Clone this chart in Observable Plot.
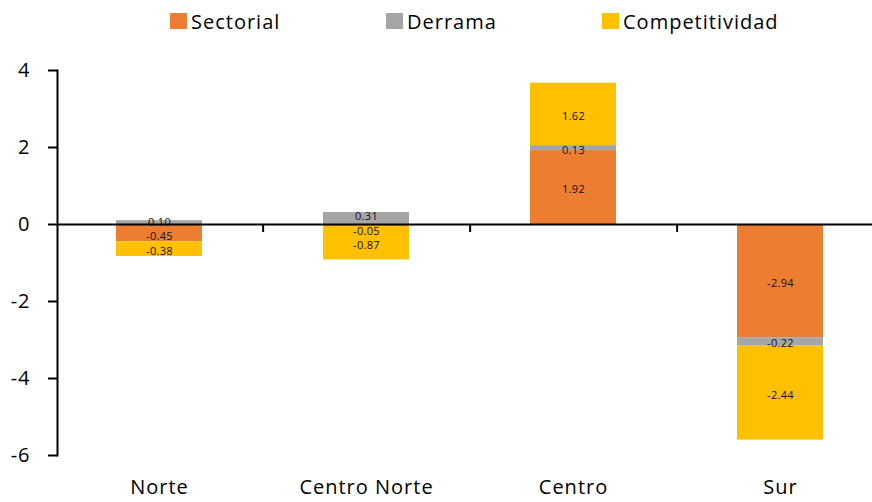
<!DOCTYPE html>
<html><head><meta charset="utf-8">
<script src="https://cdn.jsdelivr.net/npm/d3@7"></script>
<script src="https://cdn.jsdelivr.net/npm/@observablehq/plot@0.6"></script>
<style>
html,body{margin:0;padding:0;background:#fff;overflow:hidden;}
body{font-family:"Open Sans",sans-serif;color:#000;}
#legend{height:42px;position:relative;}
.item{position:absolute;top:0;height:42px;display:flex;align-items:center;font-size:20px;letter-spacing:1px;}
.sw{width:17px;height:16px;margin-right:4px;margin-top:-1px;}
#chart svg text{letter-spacing:1px;}
#chart svg .barlab text{letter-spacing:0.3px;}
</style></head><body>
<div id="legend"></div>
<div id="chart"></div>
<script>
const categories = ["Norte", "Centro Norte", "Centro", "Sur"];
const seriesNames = ["Sectorial", "Derrama", "Competitividad"];
const sectorial = [-0.45, -0.05, 1.92, -2.94];
const derrama = [0.10, 0.31, 0.13, -0.22];
const competitividad = [-0.38, -0.87, 1.62, -2.44];
const seriesColors = ["#ED7D31", "#A5A5A5", "#FFC000"];
const yTicks = [-6, -4, -2, 0, 2, 4];

const seriesValues = [sectorial, derrama, competitividad];
const rows = [];
seriesNames.forEach((s, si) => categories.forEach((c, ci) => rows.push({cat: c, series: s, value: seriesValues[si][ci]})));

// label positions: stack midpoints, pushed apart to avoid overlap
const labels = [];
categories.forEach((c, ci) => {
  let pos = 0, neg = 0;
  const ls = seriesNames.map((s, si) => {
    const v = seriesValues[si][ci];
    let lo, hi;
    if (v >= 0) { lo = pos; hi = pos + v; pos = hi; } else { hi = neg; lo = neg + v; neg = lo; }
    return {cat: c, series: s, value: v, ly: (lo + hi) / 2};
  });
  ls.sort((a, b) => b.ly - a.ly);
  const gap = 0.37;
  for (let it = 0; it < 20; it++) {
    for (let i = 0; i < ls.length - 1; i++) {
      const d = ls[i].ly - ls[i + 1].ly;
      if (d < gap) { const m = (gap - d) / 2; ls[i].ly += m; ls[i + 1].ly -= m; }
    }
  }
  labels.push(...ls);
});

// legend
const legendLefts = [170, 386, 602];
const lg = document.getElementById("legend");
seriesNames.forEach((s, i) => {
  const it = document.createElement("div");
  it.className = "item";
  it.style.left = legendLefts[i] + "px";
  it.innerHTML = `<div class="sw" style="background:${seriesColors[i]}"></div><span>${s}</span>`;
  lg.appendChild(it);
});

const W = 872, H = 460, mt = 28, mb = 47, ml = 57;
const xRange = [55, 884];
const step = (xRange[1] - xRange[0]) / categories.length;
const pxPerUnit = (H - mt - mb) / (yTicks[yTicks.length - 1] - yTicks[0]);

const chart = Plot.plot({
  width: W, height: H, marginTop: mt, marginBottom: mb, marginLeft: ml, marginRight: 0,
  style: {fontFamily: "Open Sans", fontSize: "20px", color: "#000", background: "#fff"},
  x: {domain: categories, range: xRange, paddingInner: 0.585, paddingOuter: 0.2925, label: null},
  y: {domain: [yTicks[0], yTicks[yTicks.length - 1]], label: null},
  color: {domain: seriesNames, range: seriesColors},
  marks: [
    Plot.barY(rows, {x: "cat", y: "value", fill: "series"}),
    Plot.ruleY([0], {stroke: "#000", strokeWidth: 2}),
    Plot.ruleX(categories.slice(0, -1), {x: d => d, dx: step / 2, y1: 0, y2: -8 / pxPerUnit, stroke: "#000", strokeWidth: 2}),
    Plot.frame({anchor: "left", stroke: "#000", strokeWidth: 2}),
    Plot.axisY({ticks: yTicks, tickSize: 9, tickPadding: 18, strokeWidth: 2, fontSize: 20, tickFormat: d => String(d)}),
    Plot.axisX({tickSize: 0, tickPadding: 24, fontSize: 20}),
    Plot.text(labels, {x: "cat", y: "ly", dy: 2, text: d => d.value.toFixed(2), fontSize: 11, fill: "#111", className: "barlab"})
  ]
});
document.getElementById("chart").appendChild(chart);
</script>
</body></html>
